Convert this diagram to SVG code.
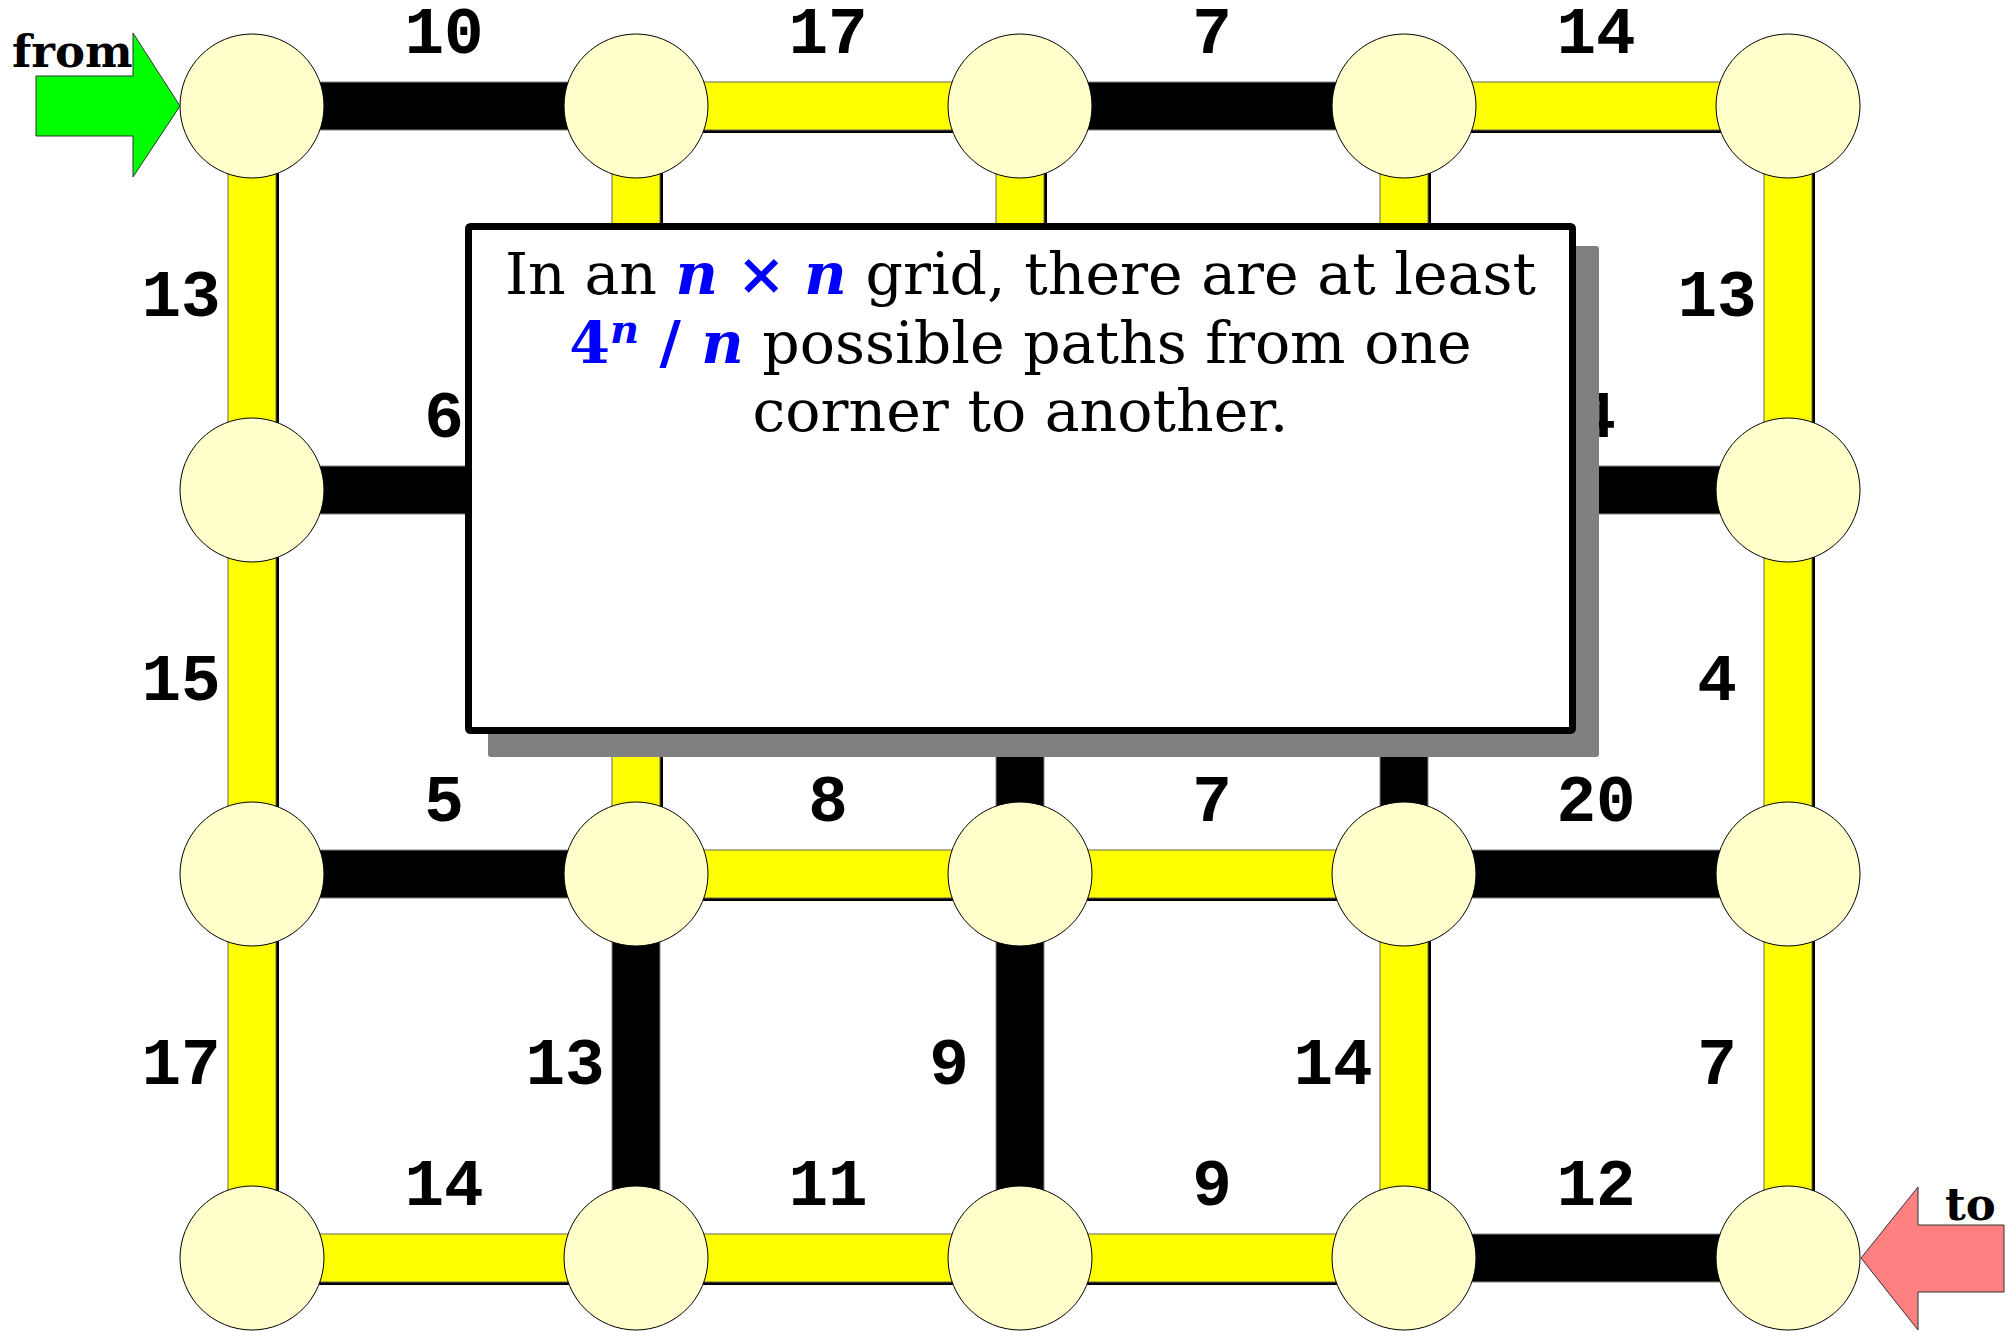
<svg xmlns="http://www.w3.org/2000/svg" width="2012" height="1332" viewBox="0 0 2012 1332">
<style>
.bk{fill:#000;stroke:#888;stroke-width:1}
.yl{fill:#ffff00;stroke:#666;stroke-width:1}
.sh{fill:#000}
.node{fill:#ffffcc;stroke:#000;stroke-width:1}
.lbl{font-family:"Liberation Mono","DejaVu Sans Mono",monospace;font-weight:bold;font-size:66px;fill:#000;text-anchor:middle}
.arrowtxt{font-family:"DejaVu Serif",serif;font-weight:bold;font-size:45px;fill:#000}
.main{font-family:"DejaVu Serif",serif;font-size:58.5px;fill:#000;text-anchor:middle}
.hl{fill:#0000ff;font-weight:bold}
.it{font-style:italic}
</style>
<rect width="2012" height="1332" fill="#fff"/>
<g id="connectors">
<rect class="bk" x="252" y="82" width="384" height="48"/>
<rect class="sh" x="636" y="85" width="384" height="48"/><rect class="yl" x="636" y="82" width="384" height="48"/>
<rect class="bk" x="1020" y="82" width="384" height="48"/>
<rect class="sh" x="1404" y="85" width="384" height="48"/><rect class="yl" x="1404" y="82" width="384" height="48"/>
<rect class="bk" x="252" y="466" width="384" height="48"/>
<rect class="bk" x="1404" y="466" width="384" height="48"/>
<rect class="bk" x="252" y="850" width="384" height="48"/>
<rect class="sh" x="636" y="853" width="384" height="48"/><rect class="yl" x="636" y="850" width="384" height="48"/>
<rect class="sh" x="1020" y="853" width="384" height="48"/><rect class="yl" x="1020" y="850" width="384" height="48"/>
<rect class="bk" x="1404" y="850" width="384" height="48"/>
<rect class="sh" x="252" y="1237" width="384" height="48"/><rect class="yl" x="252" y="1234" width="384" height="48"/>
<rect class="sh" x="636" y="1237" width="384" height="48"/><rect class="yl" x="636" y="1234" width="384" height="48"/>
<rect class="sh" x="1020" y="1237" width="384" height="48"/><rect class="yl" x="1020" y="1234" width="384" height="48"/>
<rect class="bk" x="1404" y="1234" width="384" height="48"/>
<rect class="sh" x="231" y="106" width="48" height="384"/><rect class="yl" x="228" y="106" width="48" height="384"/>
<rect class="sh" x="231" y="490" width="48" height="384"/><rect class="yl" x="228" y="490" width="48" height="384"/>
<rect class="sh" x="231" y="874" width="48" height="384"/><rect class="yl" x="228" y="874" width="48" height="384"/>
<rect class="sh" x="615" y="106" width="48" height="384"/><rect class="yl" x="612" y="106" width="48" height="384"/>
<rect class="sh" x="615" y="490" width="48" height="384"/><rect class="yl" x="612" y="490" width="48" height="384"/>
<rect class="bk" x="612" y="874" width="48" height="384"/>
<rect class="sh" x="999" y="106" width="48" height="384"/><rect class="yl" x="996" y="106" width="48" height="384"/>
<rect class="bk" x="996" y="490" width="48" height="384"/>
<rect class="bk" x="996" y="874" width="48" height="384"/>
<rect class="sh" x="1383" y="106" width="48" height="384"/><rect class="yl" x="1380" y="106" width="48" height="384"/>
<rect class="bk" x="1380" y="490" width="48" height="384"/>
<rect class="sh" x="1383" y="874" width="48" height="384"/><rect class="yl" x="1380" y="874" width="48" height="384"/>
<rect class="sh" x="1767" y="106" width="48" height="384"/><rect class="yl" x="1764" y="106" width="48" height="384"/>
<rect class="sh" x="1767" y="490" width="48" height="384"/><rect class="yl" x="1764" y="490" width="48" height="384"/>
<rect class="sh" x="1767" y="874" width="48" height="384"/><rect class="yl" x="1764" y="874" width="48" height="384"/>
</g>
<g id="labels">
<text class="lbl" x="444" y="53">10</text>
<text class="lbl" x="828" y="53">17</text>
<text class="lbl" x="1212" y="53">7</text>
<text class="lbl" x="1596" y="53">14</text>
<text class="lbl" x="444" y="437">6</text>
<text class="lbl" x="1596" y="437">4</text>
<text class="lbl" x="444" y="821">5</text>
<text class="lbl" x="828" y="821">8</text>
<text class="lbl" x="1212" y="821">7</text>
<text class="lbl" x="1596" y="821">20</text>
<text class="lbl" x="444" y="1205">14</text>
<text class="lbl" x="828" y="1205">11</text>
<text class="lbl" x="1212" y="1205">9</text>
<text class="lbl" x="1596" y="1205">12</text>
<text class="lbl" x="181" y="316">13</text>
<text class="lbl" x="181" y="700">15</text>
<text class="lbl" x="181" y="1084">17</text>
<text class="lbl" x="565" y="1084">13</text>
<text class="lbl" x="949" y="1084">9</text>
<text class="lbl" x="1333" y="1084">14</text>
<text class="lbl" x="1717" y="316">13</text>
<text class="lbl" x="1717" y="700">4</text>
<text class="lbl" x="1717" y="1084">7</text>
</g>
<g id="nodes">
<circle id="n00" class="node" cx="252" cy="106" r="72"/>
<circle id="n01" class="node" cx="636" cy="106" r="72"/>
<circle id="n02" class="node" cx="1020" cy="106" r="72"/>
<circle id="n03" class="node" cx="1404" cy="106" r="72"/>
<circle id="n04" class="node" cx="1788" cy="106" r="72"/>
<circle id="n10" class="node" cx="252" cy="490" r="72"/>
<circle id="n14" class="node" cx="1788" cy="490" r="72"/>
<circle id="n20" class="node" cx="252" cy="874" r="72"/>
<circle id="n21" class="node" cx="636" cy="874" r="72"/>
<circle id="n22" class="node" cx="1020" cy="874" r="72"/>
<circle id="n23" class="node" cx="1404" cy="874" r="72"/>
<circle id="n24" class="node" cx="1788" cy="874" r="72"/>
<circle id="n30" class="node" cx="252" cy="1258" r="72"/>
<circle id="n31" class="node" cx="636" cy="1258" r="72"/>
<circle id="n32" class="node" cx="1020" cy="1258" r="72"/>
<circle id="n33" class="node" cx="1404" cy="1258" r="72"/>
<circle id="n34" class="node" cx="1788" cy="1258" r="72"/>
</g>
<g id="from">
<polygon points="36,76 133,76 133,33 180,106 133,177 133,136 36,136" fill="#00ff00" stroke="#333" stroke-width="1"/>
<text class="arrowtxt" x="12" y="67">from</text>
</g>
<g id="to">
<polygon points="1861,1258 1918,1187 1918,1225 2004,1225 2004,1292 1918,1292 1918,1330" fill="#ff8080" stroke="#333" stroke-width="1"/>
<text class="arrowtxt" x="1945" y="1220">to</text>
</g>
<g id="note">
<rect x="488" y="246" width="1111" height="511" rx="3" fill="#808080"/>
<rect x="468.5" y="226.5" width="1104" height="504" rx="2" fill="#fff" stroke="#000" stroke-width="7"/>
<text class="main" x="1020.5" y="294">In an <tspan class="hl it">n</tspan> <tspan class="hl">×</tspan> <tspan class="hl it">n</tspan> grid, there are at least</text>
<text class="main" x="1020.5" y="363"><tspan class="hl">4</tspan><tspan class="hl it" font-size="40" dy="-20">n</tspan><tspan class="hl" dy="20"> / </tspan><tspan class="hl it">n</tspan> possible paths from one</text>
<text class="main" x="1020.5" y="431">corner to another.</text>
</g>
</svg>
